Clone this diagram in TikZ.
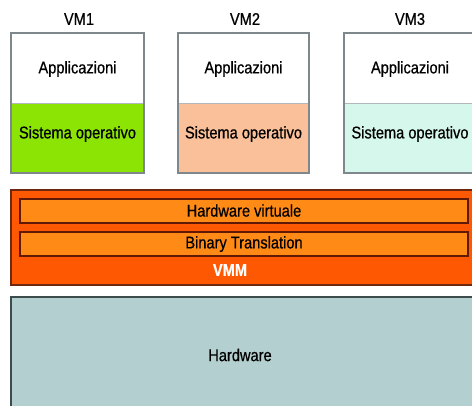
\documentclass[tikz,border=0pt]{standalone}
\usepackage{fontspec}
\setmainfont[FakeStretch=0.86,FakeBold=0.6]{Liberation Sans}
\definecolor{osgreen}{RGB}{140,228,4}
\definecolor{ospeach}{RGB}{250,192,154}
\definecolor{oscyan}{RGB}{214,247,236}
\definecolor{vmmred}{RGB}{255,88,2}
\definecolor{vmmborder}{RGB}{110,40,15}
\definecolor{barfill}{RGB}{255,138,22}
\definecolor{barborder}{RGB}{95,25,5}
\definecolor{hwfill}{RGB}{180,207,207}
\definecolor{hwborder}{RGB}{60,75,75}
\definecolor{vmborder}{RGB}{125,135,140}
\tikzset{
  txt/.style={font=\fontsize{17}{19}\selectfont, text=black},
  barbox/.style={draw=barborder, fill=barfill, line width=2pt, inner sep=0pt},
}
\begin{document}
\begin{tikzpicture}[x=1pt,y=-1pt]
\useasboundingbox[fill=white] (0,0) rectangle (472,405);
% Hardware
\fill[hwfill] (12,298) rectangle (480,410);
\draw[hwborder, line width=2pt] (11,410) -- (11,297) -- (480,297);
\node[txt] (hw) at (240,355) {Hardware};
% VMM
\fill[vmmred] (11,190) rectangle (480,285);
\draw[vmmborder, line width=1.6pt] (480,190) -- (11,190) -- (11,285) -- (480,285);
\node[barbox, minimum width=448pt, minimum height=24pt] (hv) at (244,210.5) {};
\node[txt] at (hv) {Hardware virtuale};
\node[barbox, minimum width=448pt, minimum height=24pt] (bt) at (244,244) {};
\node[txt] at (bt) {Binary Translation};
\node[txt, text=white, font=\fontsize{17}{19}\selectfont\bfseries] (vmm) at (230,270) {VMM};
% VM1
\fill[white] (11,33) rectangle (144,103);
\fill[osgreen] (11,103) rectangle (144,173);
\draw[vmborder!60, line width=1pt] (11,103) -- (144,103);
\draw[vmborder, line width=2pt] (11,33) rectangle (144,173);
\node[txt] (app1) at (77.5,69) {Applicazioni};
\node[txt] (os1) at (77.5,134) {Sistema operativo};
\node[txt] (vm1) at (79,19) {VM1};
% VM2
\fill[white] (178,33) rectangle (309,103);
\fill[ospeach] (178,103) rectangle (309,173);
\draw[vmborder!60, line width=1pt] (178,103) -- (309,103);
\draw[vmborder, line width=2pt] (178,33) rectangle (309,173);
\node[txt] (app2) at (243.5,69) {Applicazioni};
\node[txt] (os2) at (243.5,134) {Sistema operativo};
\node[txt] (vm2) at (245,19) {VM2};
% VM3
\fill[white] (344,33) rectangle (480,103);
\fill[oscyan] (344,103) rectangle (480,173);
\draw[vmborder!60, line width=1pt] (344,103) -- (480,103);
\draw[vmborder, line width=2pt] (480,33) -- (344,33) -- (344,173) -- (480,173);
\node[txt] (app3) at (410,69) {Applicazioni};
\node[txt] (os3) at (410,134) {Sistema operativo};
\node[txt] (vm3) at (410,19) {VM3};
\end{tikzpicture}
\end{document}
